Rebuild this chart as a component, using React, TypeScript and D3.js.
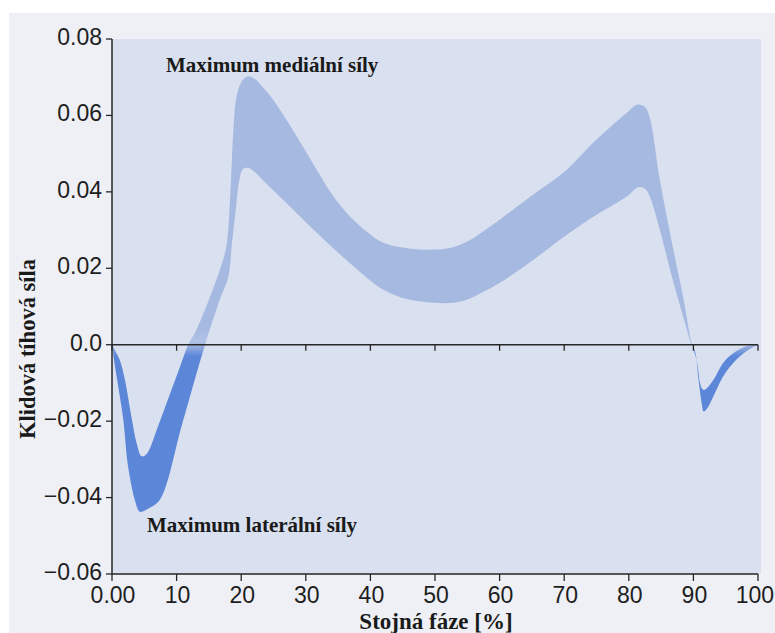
import React from "react";
import * as d3 from "d3";

// Upper boundary of the band (stance phase %, force)
const upperPhase = [0, 1.2, 2.0, 3.0, 3.8, 4.6, 5.4, 7.0, 8.6, 10.2, 11.8, 13.1, 15.2, 16.7, 17.7, 18.3, 18.8, 19.3, 20.3, 21.4, 23.9, 27.0, 29.5, 31.7, 34.0, 36.8, 39.5, 42.0, 46.0, 49.7, 52.5, 55.0, 60.0, 65.2, 70.4, 74.5, 79.7, 81.3, 82.5, 83.3, 84.8, 86.8, 88.4, 89.7, 90.5, 91.1, 91.5, 92.0, 93.1, 94.6, 96.2, 98.2, 100];
const upperForce = [0, -0.004, -0.0092, -0.0188, -0.0257, -0.0292, -0.0285, -0.0219, -0.0146, -0.0073, 0, 0.004, 0.0126, 0.0196, 0.0257, 0.0388, 0.0563, 0.065, 0.0694, 0.0702, 0.0663, 0.0589, 0.052, 0.0458, 0.0395, 0.0336, 0.0295, 0.0267, 0.0252, 0.0249, 0.0254, 0.027, 0.0327, 0.0393, 0.0458, 0.0529, 0.0607, 0.0628, 0.0622, 0.059, 0.0432, 0.0257, 0.0126, 0.0005, -0.004, -0.0105, -0.0118, -0.0115, -0.0092, -0.0048, -0.0022, -0.0004, 0];

// Lower boundary of the band
const lowerPhase = [0, 0.5, 1.7, 2.5, 3.6, 4.3, 5.5, 7.4, 10.9, 14.4, 16.7, 18.0, 18.6, 19.2, 19.7, 20.2, 20.8, 21.5, 24.0, 27.0, 31.7, 36.8, 42.0, 46.0, 49.7, 53.0, 55.0, 60.0, 65.2, 70.4, 75.0, 79.7, 81.5, 82.5, 83.2, 84.8, 86.8, 89.0, 89.6, 90.2, 90.8, 91.3, 91.6, 92.2, 93.1, 94.6, 96.2, 98.2, 100];
const lowerForce = [0, -0.006, -0.019, -0.032, -0.041, -0.0437, -0.043, -0.0406, -0.0205, 0, 0.0118, 0.0178, 0.027, 0.036, 0.043, 0.0458, 0.0463, 0.046, 0.042, 0.0371, 0.0293, 0.0214, 0.0144, 0.0118, 0.011, 0.011, 0.0118, 0.0162, 0.0222, 0.0288, 0.034, 0.0388, 0.0412, 0.0408, 0.039, 0.0301, 0.017, 0.0039, 0.0003, -0.0013, -0.0092, -0.0155, -0.0175, -0.0165, -0.0135, -0.0083, -0.0047, -0.0017, 0];

const xTicks = [0, 10, 20, 30, 40, 50, 60, 70, 80, 90, 100];
const xTickLabels = ["0.00", "10", "20", "30", "40", "50", "60", "70", "80", "90", "100"];
const yTicks = [0.08, 0.06, 0.04, 0.02, 0, -0.02, -0.04, -0.06];
const yTickLabels = ["0.08", "0.06", "0.04", "0.02", "0.0", "\u22120.02", "\u22120.04", "\u22120.06"];

const W = 775;
const H = 633;

export default function App() {
  const x = d3.scaleLinear().domain([0, 100]).range([112, 758]);
  const y = d3.scaleLinear().domain([-0.06, 0.08]).range([574, 39]);

  const line = d3
    .line<[number, number]>()
    .x((d) => x(d[0]))
    .y((d) => y(d[1]))
    .curve(d3.curveCatmullRom.alpha(0.5));

  const up: [number, number][] = upperPhase.map((p, i) => [p, upperForce[i]]);
  const lo: [number, number][] = lowerPhase.map((p, i) => [p, lowerForce[i]]).reverse() as [number, number][];
  const bandPath = (line(up) || "") + (line(lo) || "").replace(/^M/, "L") + "Z";

  const serif = "'Liberation Serif', 'Times New Roman', serif";
  const sans = "'Liberation Sans', Arial, sans-serif";
  const axisColor = "#262626";

  return (
    <svg
      width={W}
      height={H}
      style={{ position: "absolute", left: 0, top: 0 }}
      xmlns="http://www.w3.org/2000/svg"
    >
      <defs>
        <linearGradient id="bandGrad" gradientUnits="userSpaceOnUse" x1={0} x2={0} y1={y(0.004)} y2={y(-0.003)}>
          <stop offset="0" stopColor="#a6b9e1" />
          <stop offset="0.45" stopColor="#b2c3e6" />
          <stop offset="1" stopColor="#5c86d7" />
        </linearGradient>
      </defs>
      <rect x={0} y={0} width={W} height={H} fill="#ffffff" />
      <rect x={9} y={13} width={W - 9} height={H - 13} fill="#eef0f5" />
      <rect x={x(0)} y={y(0.08)} width={761 - x(0)} height={y(-0.06) - y(0.08)} fill="#d9e0ef" />

      <path d={bandPath} fill="url(#bandGrad)" />

      {/* zero line */}
      <line x1={x(0)} x2={x(100)} y1={y(0)} y2={y(0)} stroke={axisColor} strokeWidth={1.5} />
      {xTicks.map((t) => (
        <line key={"zt" + t} x1={x(t)} x2={x(t)} y1={y(0)} y2={y(0) + 6} stroke={axisColor} strokeWidth={1.3} />
      ))}

      {/* x axis */}
      <line x1={x(0)} x2={x(100)} y1={y(-0.06)} y2={y(-0.06)} stroke={axisColor} strokeWidth={1.5} />
      {xTicks.map((t, i) => {
        const last = i === xTicks.length - 1;
        return (
          <g key={"xt" + t}>
            <line x1={x(t)} x2={x(t)} y1={y(-0.06)} y2={y(-0.06) + 7} stroke={axisColor} strokeWidth={1.3} />
            <text
              x={last ? W - 1 : x(t) + 1}
              y={603}
              textAnchor={last ? "end" : "middle"}
              fontFamily={sans}
              fontSize={23}
              fill="#1e1e1e"
            >
              {xTickLabels[i]}
            </text>
          </g>
        );
      })}

      {/* y axis */}
      <line x1={x(0)} x2={x(0)} y1={y(0.08)} y2={y(-0.06)} stroke={axisColor} strokeWidth={1.5} />
      {yTicks.map((t, i) => (
        <g key={"yt" + t}>
          <line x1={x(0) - 6} x2={x(0)} y1={y(t)} y2={y(t)} stroke={axisColor} strokeWidth={1.3} />
          <text x={102} y={y(t) + 6} textAnchor="end" fontFamily={sans} fontSize={23} fill="#1e1e1e">
            {yTickLabels[i]}
          </text>
        </g>
      ))}

      {/* annotations */}
      <text x={166} y={72} fontFamily={serif} fontWeight="bold" fontSize={21} fill="#1a1a1a">
        Maximum mediální síly
      </text>
      <text x={147} y={532} fontFamily={serif} fontWeight="bold" fontSize={21} fill="#1a1a1a">
        Maximum laterální síly
      </text>

      {/* axis titles */}
      <text
        transform={`translate(35, 349) rotate(-90)`}
        textAnchor="middle"
        fontFamily={serif}
        fontWeight="bold"
        fontSize={22.5}
        fill="#1a1a1a"
      >
        Klidová tíhová síla
      </text>
      <text x={436} y={629} textAnchor="middle" fontFamily={serif} fontWeight="bold" fontSize={23} fill="#1a1a1a">
        Stojná fáze [%]
      </text>
    </svg>
  );
}
